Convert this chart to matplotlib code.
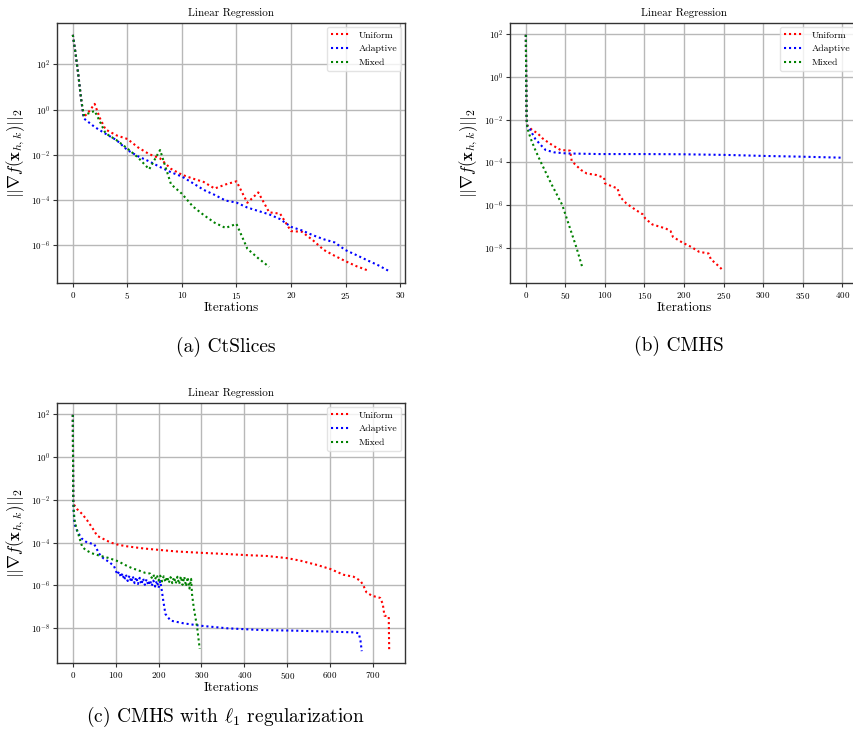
import numpy as np
import matplotlib
matplotlib.use("Agg")
import matplotlib.pyplot as plt
from matplotlib.ticker import NullLocator, FixedLocator

plt.rcParams['font.family'] = 'serif'
plt.rcParams['font.serif'] = ['cmr10', 'DejaVu Serif']
plt.rcParams['mathtext.fontset'] = 'cm'
plt.rcParams['axes.formatter.use_mathtext'] = True
plt.rcParams['axes.unicode_minus'] = False

series_names = ["Uniform", "Adaptive", "Mixed"]
series_colors = ["red", "blue", "green"]
title_text = "Linear Regression"
xlabel_text = "Iterations"
ylabel_text = r"$||\nabla f(\mathbf{x}_{h,k})||_2$"
captions = ["(a) CtSlices", "(b) CMHS", r"(c) CMHS with $\ell_1$ regularization"]
ytick_exponents = [-8, -6, -4, -2, 0, 2]

# ---------------- (a) CtSlices : values given as log10 of the gradient norm
a_uniform_x = [0, 0.25, 0.5, 0.75, 1, 1.5, 2, 2.5, 3, 4, 5, 6, 7, 8, 9, 10, 11, 12, 13, 14,
               15, 16, 17, 18, 19, 20, 21, 22, 23, 24, 25, 26, 27]
a_uniform_log = [3.3, 2.48, 1.55, 0.5, -0.34, -0.08, 0.25, -0.4, -0.88, -1.14, -1.30, -1.68,
                 -1.97, -2.16, -2.62, -2.88, -3.05, -3.2, -3.49, -3.31, -3.17, -4.12, -3.66,
                 -4.54, -4.6, -5.37, -5.4, -5.77, -6.2, -6.46, -6.7, -6.92, -7.1]
a_adaptive_x = [0, 0.25, 0.5, 0.75, 1, 2, 3, 4, 5, 6, 7, 8, 9, 10, 11, 12, 13, 14, 15, 16,
                17, 18, 19, 20, 21, 22, 23, 24, 25, 26, 27, 28, 29]
a_adaptive_log = [3.3, 2.48, 1.55, 0.5, -0.39, -0.77, -1.07, -1.35, -1.79, -2.07, -2.29,
                  -2.54, -2.77, -2.96, -3.25, -3.55, -3.77, -4.02, -4.11, -4.33, -4.48, -4.63,
                  -4.84, -5.18, -5.34, -5.55, -5.73, -5.87, -6.21, -6.43, -6.66, -6.88, -7.14]
a_mixed_x = [0, 0.25, 0.5, 0.75, 1, 1.5, 2, 2.5, 3, 4, 5, 6, 7, 8, 9, 10, 11, 12, 13, 14,
             15, 16, 17, 18]
a_mixed_log = [3.3, 2.48, 1.55, 0.5, -0.25, -0.16, -0.06, -0.55, -1.05, -1.35, -1.72, -2.13,
               -2.64, -1.79, -3.3, -3.72, -4.28, -4.66, -5.0, -5.23, -5.05, -6.15, -6.57, -6.95]

# ---------------- (b) CMHS
b_uniform_x = [0, 1, 2, 8, 15, 21, 30, 38, 44, 56, 58, 63, 70, 77, 89, 99, 100, 110, 116, 119,
               127, 139, 148, 151, 160, 177, 183, 186, 198, 209, 219, 231, 234, 245, 250]
b_uniform_log = [1.97, -2.0, -2.29, -2.49, -2.65, -2.88, -3.12, -3.30, -3.43, -3.46, -3.94,
                 -4.13, -4.37, -4.53, -4.60, -4.73, -4.99, -5.15, -5.23, -5.62, -5.93, -6.24,
                 -6.45, -6.64, -6.92, -7.11, -7.23, -7.5, -7.77, -7.97, -8.2, -8.28, -8.55,
                 -8.91, -9.11]
b_adaptive_x = [0, 1, 2, 5, 8, 12, 18, 25, 36, 51, 93, 148, 198, 253, 304, 346, 400]
b_adaptive_log = [1.97, -2.0, -2.33, -2.44, -2.65, -2.91, -3.16, -3.43, -3.54, -3.59, -3.62,
                  -3.62, -3.63, -3.66, -3.71, -3.74, -3.79]
b_mixed_x = [0, 1, 2, 6, 12, 19, 32, 46, 55, 64, 72]
b_mixed_log = [1.97, -2.0, -2.41, -2.88, -3.43, -4.0, -5.0, -6.0, -7.0, -8.0, -9.0]

# ---------------- (c) CMHS with l1 regularization
c_uniform_x = [0, 1, 2, 10, 22, 33, 45, 57, 72, 88, 107, 127, 166, 204, 243, 298, 360, 406,
               453, 500, 531, 570, 601, 632, 655, 671, 678, 685, 698, 717, 723, 727, 737, 738]
c_uniform_log = [1.97, -2.0, -2.21, -2.44, -2.67, -2.95, -3.30, -3.69, -3.84, -4.0, -4.11,
                 -4.18, -4.28, -4.35, -4.42, -4.48, -4.54, -4.59, -4.63, -4.73, -4.85, -5.05,
                 -5.24, -5.51, -5.60, -5.79, -6.02, -6.33, -6.49, -6.59, -6.87, -7.42, -7.46,
                 -9.05]
c_adaptive_x = [0, 1, 2, 4, 10, 20, 33, 50, 57, 64, 72, 84, 96,
                100, 104, 108, 112, 116, 120, 124, 128, 132, 136, 140, 144, 148, 152, 156,
                160, 164, 168, 172, 176, 180, 184, 188, 192, 196, 200, 204, 208,
                211, 216, 228, 259, 298, 360, 438, 515, 593, 655, 667, 671, 674]
c_adaptive_log = [1.97, -2.0, -2.55, -3.15, -3.45, -3.8, -4.0, -4.08, -4.35, -4.6, -4.75,
                  -4.9, -5.1,
                  -5.30, -5.50, -5.36, -5.62, -5.44, -5.75, -5.50, -5.80, -5.55, -5.85, -5.58,
                  -5.90, -5.62, -5.94, -5.65, -5.96, -5.68, -5.98, -5.72, -6.00, -5.76, -6.03,
                  -5.78, -6.06, -5.79, -6.12, -5.80, -6.30,
                  -6.72, -7.34, -7.65, -7.78, -7.89, -8.01, -8.09, -8.12, -8.16, -8.20, -8.24,
                  -8.58, -9.08]
c_mixed_x = [0, 1, 2, 4, 8, 13, 18, 22, 30, 44, 60, 83, 106, 122, 138, 153, 169,
             180, 184, 188, 192, 196, 200, 204, 208, 212, 216, 220, 224, 228, 232, 236, 240,
             244, 248, 252, 256, 260, 264, 268, 272, 276,
             278, 282, 290, 296]
c_mixed_log = [1.97, -2.0, -2.45, -2.95, -3.3, -3.62, -3.95, -4.2, -4.35, -4.5, -4.6, -4.72,
               -4.88, -5.05, -5.2, -5.3, -5.42,
               -5.45, -5.65, -5.50, -5.72, -5.52, -5.78, -5.55, -5.82, -5.58, -5.85, -5.60,
               -5.88, -5.62, -5.90, -5.62, -5.92, -5.60, -5.95, -5.58, -5.98, -5.60, -6.05,
               -5.62, -6.15, -5.70,
               -6.4, -7.03, -7.96, -8.97]

panels = [
    [(a_uniform_x, a_uniform_log), (a_adaptive_x, a_adaptive_log), (a_mixed_x, a_mixed_log)],
    [(b_uniform_x, b_uniform_log), (b_adaptive_x, b_adaptive_log), (b_mixed_x, b_mixed_log)],
    [(c_uniform_x, c_uniform_log), (c_adaptive_x, c_adaptive_log), (c_mixed_x, c_mixed_log)],
]

W, H = 854, 742
fig = plt.figure(figsize=(W / 100, H / 100), dpi=100)

def fx(px):
    return px / W

def fy(py):
    return 1 - py / H

ax_w = 348 / W
ax_h = 260 / H
rects = [
    [fx(57), fy(283), ax_w, ax_h],
    [fx(510), fy(283), ax_w, ax_h],
    [fx(57), fy(663), ax_w, ax_h],
]
caption_pos = [(fx(226), fy(347)), (fx(679), fy(346)), (fx(226), fy(717))]

dot_style = (0, (1, 1.4))

for i, rect in enumerate(rects):
    ax = fig.add_axes(rect)
    for (xs, logs), name, col in zip(panels[i], series_names, series_colors):
        ax.plot(xs, 10.0 ** np.array(logs), linestyle=dot_style, color=col,
                linewidth=1.5, label=name)
    ax.set_yscale('log')
    ax.yaxis.set_major_locator(FixedLocator([10.0 ** e for e in ytick_exponents]))
    ax.yaxis.set_minor_locator(NullLocator())
    ax.grid(True, color='#b8b8b8', linewidth=1.0)
    ax.set_axisbelow(True)
    for s in ax.spines.values():
        s.set_color('#333333')
        s.set_linewidth(1.0)
    ax.tick_params(labelsize=6.5, length=3, color='#333333', pad=2)
    ax.set_title(title_text, fontsize=8, pad=5)
    ax.set_xlabel(xlabel_text, fontsize=9.5, labelpad=1)
    ax.set_ylabel(ylabel_text, fontsize=12, labelpad=3)
    leg = ax.legend(loc='upper right', fontsize=7, handlelength=2.0,
                    borderaxespad=0.4, framealpha=0.8, fancybox=True)
    leg.get_frame().set_edgecolor('#dddddd')
    fig.text(caption_pos[i][0], caption_pos[i][1], captions[i], fontsize=14,
             ha='center', va='center')

fig.savefig("out.png", dpi=100)
